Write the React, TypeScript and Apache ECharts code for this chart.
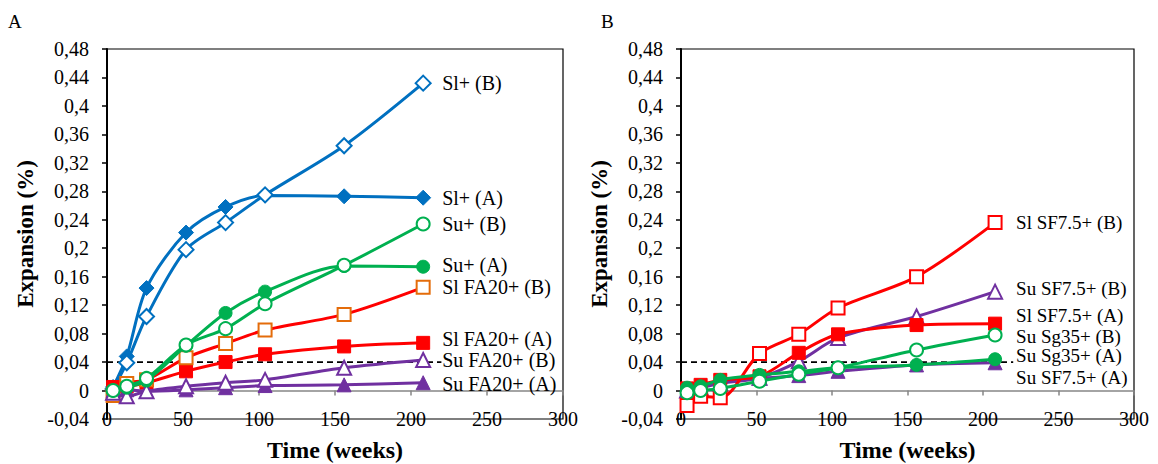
import React, { useEffect, useRef } from "react";
import * as echarts from "echarts";

// ---- Data ----
const weeks = [4, 13, 26, 52, 78, 104, 156, 208];
const xTicks = [0, 300, 50]; // min, max, interval
const yTicks = [-0.04, 0.48, 0.04]; // min, max, interval
const thresholdX = [0, 220];
const thresholdY = 0.04;

// Panel A
const slPlusB = [0.002, 0.039, 0.104, 0.198, 0.236, 0.275, 0.344, 0.432];
const slPlusA = [0.005, 0.048, 0.144, 0.222, 0.258, 0.274, 0.273, 0.271];
const suPlusB = [0.0, 0.006, 0.017, 0.064, 0.087, 0.122, 0.176, 0.234];
const suPlusA = [0.0, 0.004, 0.014, 0.063, 0.109, 0.139, 0.175, 0.174];
const slFA20B = [-0.007, 0.01, 0.015, 0.046, 0.066, 0.085, 0.107, 0.145];
const slFA20A = [0.005, 0.006, 0.011, 0.027, 0.04, 0.051, 0.062, 0.067];
const suFA20B = [-0.003, -0.008, -0.001, 0.006, 0.011, 0.015, 0.032, 0.043];
const suFA20A = [0.0, 0.001, -0.001, 0.001, 0.004, 0.007, 0.008, 0.011];

// Panel B
const slSF75B = [-0.021, -0.008, -0.01, 0.052, 0.079, 0.116, 0.16, 0.236];
const suSF75B = [0.0, 0.004, 0.01, 0.018, 0.041, 0.074, 0.104, 0.139];
const slSF75A = [0.003, 0.008, 0.015, 0.02, 0.053, 0.079, 0.092, 0.094];
const suSg35B = [-0.003, 0.0, 0.003, 0.013, 0.023, 0.032, 0.057, 0.078];
const suSg35A = [0.004, 0.006, 0.015, 0.022, 0.027, 0.032, 0.036, 0.044];
const suSF75A = [0.002, 0.005, 0.012, 0.017, 0.021, 0.027, 0.036, 0.039];

const FONT = "Liberation Serif";
const BLUE = "#0070C0";
const GREEN = "#00B050";
const RED = "#FF0000";
const ORANGE = "#E46C0A";
const PURPLE = "#7030A0";

type Spec = {
  name: string;
  values: number[];
  panel: number;
  line: string;
  marker: string;
  symbol: string;
  open: boolean;
  dy: number;
};

const specs: Spec[] = [
  { name: "Sl+ (A)", values: slPlusA, panel: 0, line: BLUE, marker: BLUE, symbol: "diamond", open: false, dy: 0 },
  { name: "Sl+ (B)", values: slPlusB, panel: 0, line: BLUE, marker: BLUE, symbol: "diamond", open: true, dy: 0 },
  { name: "Sl FA20+ (A)", values: slFA20A, panel: 0, line: RED, marker: RED, symbol: "rect", open: false, dy: -4 },
  { name: "Sl FA20+ (B)", values: slFA20B, panel: 0, line: RED, marker: ORANGE, symbol: "rect", open: true, dy: 0 },
  { name: "Su FA20+ (A)", values: suFA20A, panel: 0, line: PURPLE, marker: PURPLE, symbol: "triangle", open: false, dy: 1 },
  { name: "Su FA20+ (B)", values: suFA20B, panel: 0, line: PURPLE, marker: PURPLE, symbol: "triangle", open: true, dy: 0 },
  { name: "Su+ (A)", values: suPlusA, panel: 0, line: GREEN, marker: GREEN, symbol: "circle", open: false, dy: -2 },
  { name: "Su+ (B)", values: suPlusB, panel: 0, line: GREEN, marker: GREEN, symbol: "circle", open: true, dy: 0 },

  { name: "Su SF7.5+ (A)", values: suSF75A, panel: 1, line: PURPLE, marker: PURPLE, symbol: "triangle", open: false, dy: 15 },
  { name: "Su SF7.5+ (B)", values: suSF75B, panel: 1, line: PURPLE, marker: PURPLE, symbol: "triangle", open: true, dy: -3 },
  { name: "Sl SF7.5+ (A)", values: slSF75A, panel: 1, line: RED, marker: RED, symbol: "rect", open: false, dy: -8 },
  { name: "Sl SF7.5+ (B)", values: slSF75B, panel: 1, line: RED, marker: RED, symbol: "rect", open: true, dy: 0 },
  { name: "Su Sg35+ (A)", values: suSg35A, panel: 1, line: GREEN, marker: GREEN, symbol: "circle", open: false, dy: -4 },
  { name: "Su Sg35+ (B)", values: suSg35B, panel: 1, line: GREEN, marker: GREEN, symbol: "circle", open: true, dy: 1 },
];

const fmtY = (v: number) => {
  const r = parseFloat(v.toFixed(2));
  return String(r).replace(".", ",");
};

export default function App() {
  const ref = useRef<HTMLDivElement>(null);

  useEffect(() => {
    if (!ref.current) return;
    const chart = echarts.init(ref.current, null, { renderer: "svg" });

    const grids = [
      { left: 107, top: 49, width: 456, height: 370 },
      { left: 681, top: 49, width: 453, height: 370 },
    ].map((g) => ({
      ...g,
      show: true,
      containLabel: false,
      outerBoundsMode: "none",
      borderColor: "#000",
      borderWidth: 1.2,
      backgroundColor: "transparent",
    }));

    const xAxes = [0, 1].map((i) => ({
      gridIndex: i,
      type: "value",
      min: xTicks[0],
      max: xTicks[1],
      interval: xTicks[2],
      axisLine: { show: true, onZero: true, lineStyle: { color: "#868686", width: 1.5 } },
      axisTick: { show: true, length: 5, lineStyle: { color: "#868686", width: 1.5 } },
      axisLabel: { margin: 0, verticalAlign: "middle", color: "#000", fontSize: 20, fontFamily: FONT },
      splitLine: { show: false },
      name: "Time (weeks)",
      nameLocation: "middle",
      nameGap: 19,
      nameTextStyle: { fontWeight: "bold", fontSize: 24, color: "#000", fontFamily: FONT },
    }));

    const yAxes = [0, 1].map((i) => ({
      gridIndex: i,
      type: "value",
      min: yTicks[0],
      max: yTicks[1],
      interval: yTicks[2],
      axisLine: { show: true, onZero: false, lineStyle: { color: "#000", width: 2 } },
      axisTick: { show: true, length: 5, lineStyle: { color: "#000", width: 1.5 } },
      axisLabel: { margin: 18, color: "#000", fontSize: 20, fontFamily: FONT, formatter: fmtY },
      splitLine: { show: false },
      name: "Expansion (%)",
      nameLocation: "middle",
      nameGap: 70,
      nameRotate: 90,
      nameTextStyle: { fontWeight: "bold", fontSize: 23, color: "#000", fontFamily: FONT },
    }));

    const dashed = [0, 1].map((i) => ({
      type: "line",
      xAxisIndex: i,
      yAxisIndex: i,
      data: thresholdX.map((x) => [x, thresholdY]),
      symbol: "none",
      silent: true,
      lineStyle: { color: "#000", width: 1.8, type: [6, 4] },
      z: 1,
    }));

    const series = specs.map((s, k) => ({
      type: "line",
      name: s.name,
      xAxisIndex: s.panel,
      yAxisIndex: s.panel,
      data: weeks.map((w, i) => [w, s.values[i]]),
      smooth: 0.3,
      symbol: s.symbol,
      symbolSize: s.symbol === "diamond" ? 15 : s.symbol === "triangle" ? 14 : 13,
      showSymbol: true,
      lineStyle: { color: s.line, width: 3 },
      itemStyle: {
        color: s.open ? "#fff" : s.marker,
        borderColor: s.marker,
        borderWidth: s.open ? 2 : 1,
      },
      endLabel: {
        show: true,
        formatter: s.name,
        distance: s.panel === 0 ? 19 : 21,
        offset: [0, s.dy],
        color: "#000",
        fontSize: s.panel === 0 ? 20 : 19,
        lineHeight: 17,
        fontFamily: FONT,
      },
      z: 3 + k,
    }));

    chart.setOption({
      animation: false,
      backgroundColor: "#fff",
      grid: grids,
      xAxis: xAxes,
      yAxis: yAxes,
      series: [...dashed, ...series],
      graphic: [
        { type: "text", left: 8, top: 12, style: { text: "A", fontSize: 19, fontFamily: FONT, fill: "#000" } },
        { type: "text", left: 601, top: 12, style: { text: "B", fontSize: 19, fontFamily: FONT, fill: "#000" } },
      ],
    });

    return () => chart.dispose();
  }, []);

  return (
    <div
      ref={ref}
      style={{ position: "absolute", left: 0, top: 0, width: 1158, height: 464, background: "#fff" }}
    />
  );
}
